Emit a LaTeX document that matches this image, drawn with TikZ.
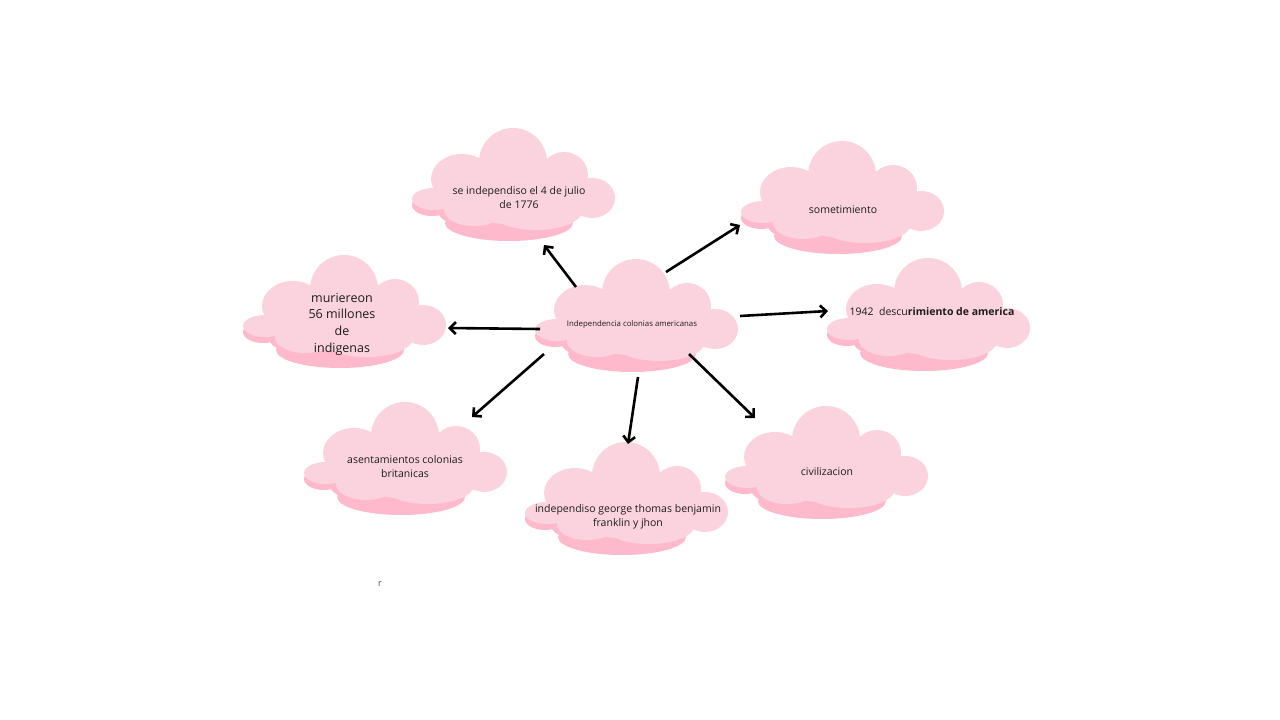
\documentclass[tikz,border=0pt]{standalone}
\usepackage{fontspec}
\setmainfont{Open Sans}
\usetikzlibrary{arrows.meta}
\definecolor{nubeclara}{RGB}{251,211,222}
\definecolor{nubeoscura}{RGB}{255,185,204}
\definecolor{tinta}{RGB}{28,28,28}
\tikzset{
  flecha/.style={
    line width=2.6pt,
    -{Straight Barb[length=6pt,width=12pt]}
  },
  rotulo/.style={
    align=center,
    text=tinta,
    font=\fontsize{10.5}{14}\selectfont
  }
}
% one cloud, centred on #1
\newcommand\Nube[1]{%
  \begin{scope}[shift={(#1)}]
    \fill[nubeoscura] (-82,12) ellipse [x radius=20pt, y radius=11pt];
    \fill[nubeoscura] (-5,30) ellipse [x radius=64pt, y radius=18pt];
    \fill[nubeoscura] (-50,18) ellipse [x radius=26pt, y radius=14pt];
    \fill[nubeclara] (-1,-31) circle [radius=34pt];
    \fill[nubeclara] (-52,-14) ellipse [x radius=31pt, y radius=25pt];
    \fill[nubeclara] (50,-18) ellipse [x radius=24pt, y radius=23pt];
    \fill[nubeclara] (78,5) ellipse [x radius=23pt, y radius=20pt];
    \fill[nubeclara] (-80,6) ellipse [x radius=22pt, y radius=11pt];
    \fill[nubeclara] (5,2) ellipse [x radius=85pt, y radius=24pt];
    \fill[nubeclara] (-40,17) ellipse [x radius=30pt, y radius=16pt];
    \fill[nubeclara] (22,18) ellipse [x radius=46pt, y radius=19pt];
    \fill[nubeclara] (-8,16) ellipse [x radius=30pt, y radius=15pt];
  \end{scope}}

\begin{document}
\begin{tikzpicture}[x=1pt, y=-1pt]
\fill[white] (0,0) rectangle (1280,720);
\useasboundingbox (0,0) rectangle (1280,720);

\Nube{514,193}
\Nube{843,206}
\Nube{345,320}
\Nube{637,324}
\Nube{929,323}
\Nube{406,467}
\Nube{627,507}
\Nube{827,471}

\node[rotulo] (Julio) at (519,198) {se independiso el 4 de julio\\de 1776};
\node[rotulo] (Somet) at (843,210) {sometimiento};
\node[rotulo, font=\fontsize{12.5}{16.7}\selectfont] (Murieron) at (342,324) {muriereon\\56 millones\\de\\indigenas};
\node[rotulo, font=\fontsize{7.8}{9}\selectfont] (Centro) at (632,324) {Independencia colonias americanas};
\node[rotulo] (Descub) at (932,312) {1942\ \ descu\textbf{rimiento de america}};
\node[rotulo] (Asent) at (405,467) {asentamientos colonias\\britanicas};
\node[rotulo] (Frank) at (628,517) {independiso george thomas benjamin\\franklin y jhon};
\node[rotulo] (Civil) at (827,472) {civilizacion};
\node[text=tinta!80, font=\fontsize{9}{10}\selectfont] (Marca) at (380,584) {r};

\coordinate (O1) at (576,287); \coordinate (D1) at (544,245);
\coordinate (O2) at (666,272); \coordinate (D2) at (740,225);
\coordinate (O3) at (540,329); \coordinate (D3) at (448,328);
\coordinate (O4) at (740,316); \coordinate (D4) at (828,311);
\coordinate (O5) at (544,354); \coordinate (D5) at (472,417);
\coordinate (O6) at (638,377); \coordinate (D6) at (628,444);
\coordinate (O7) at (689,354); \coordinate (D7) at (755,418);

\path (O1) edge[flecha] (D1)
      (O2) edge[flecha] (D2)
      (O3) edge[flecha] (D3)
      (O4) edge[flecha] (D4)
      (O5) edge[flecha] (D5)
      (O6) edge[flecha] (D6)
      (O7) edge[flecha] (D7);
\end{tikzpicture}
\end{document}
